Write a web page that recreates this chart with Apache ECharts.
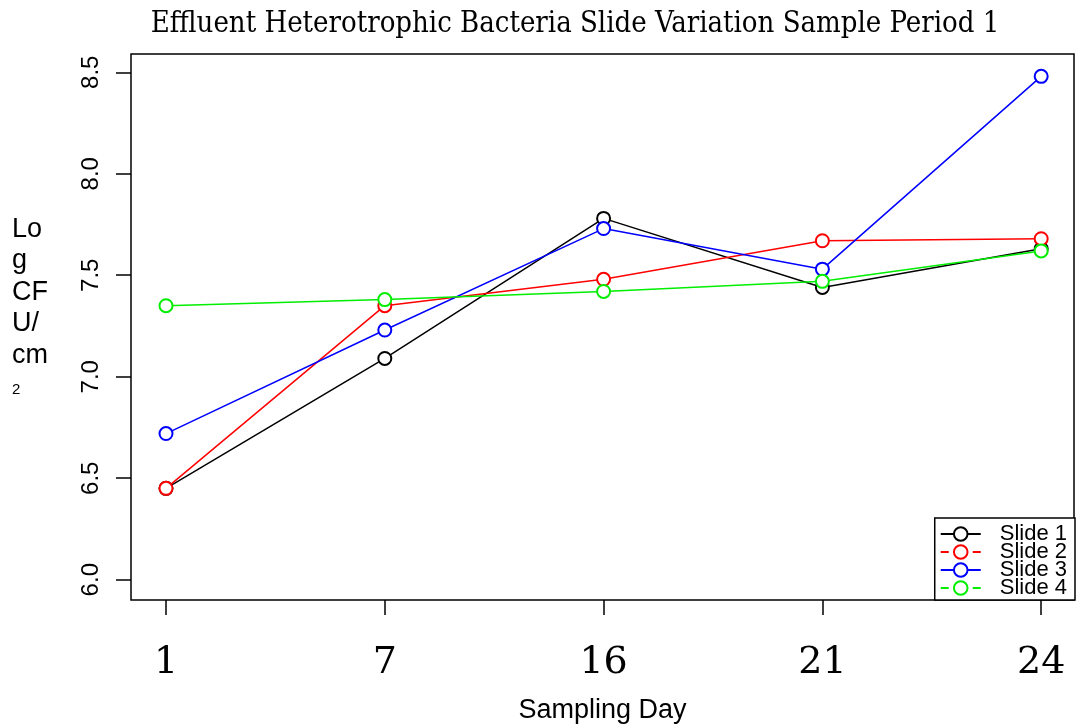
<!DOCTYPE html>
<html>
<head>
<meta charset="utf-8">
<script src="https://cdn.jsdelivr.net/npm/echarts@6/dist/echarts.min.js"></script>
<style>html,body{margin:0;padding:0;background:#fff}#c{width:1076px;height:725px}</style>
</head>
<body>
<div id="c"></div>
<script>
const dayLabels = ['1', '7', '16', '21', '24'];
const seriesNames = ['Slide 1', 'Slide 2', 'Slide 3', 'Slide 4'];
const seriesColors = ['#000000', '#ff0000', '#0000ff', '#00ee00'];
const slide1 = [6.45, 7.09, 7.78, 7.44, 7.63];
const slide2 = [6.45, 7.35, 7.48, 7.67, 7.68];
const slide3 = [6.72, 7.23, 7.73, 7.53, 8.48];
const slide4 = [7.35, 7.38, 7.42, 7.47, 7.62];
const yTicks = [6.0, 6.5, 7.0, 7.5, 8.0, 8.5];
const allValues = [slide1, slide2, slide3, slide4];
const legendDashed = [false, true, false, true];

const chart = echarts.init(document.getElementById('c'), null, {renderer: 'canvas'});
const idx = dayLabels.map((_, i) => i);

const series = allValues.map((vals, s) => ({
  name: seriesNames[s],
  type: 'line',
  data: vals.map((v, i) => [i, v]),
  symbol: 'emptyCircle',
  symbolSize: 13,
  color: seriesColors[s],
  lineStyle: {width: 1.5, color: seriesColors[s]},
  itemStyle: {color: seriesColors[s], borderColor: seriesColors[s], borderWidth: 1.5},
  emphasis: {disabled: true},
  animation: false
}));

chart.setOption({
  animation: false,
  title: {
    text: 'Effluent Heterotrophic Bacteria Slide Variation Sample Period 1',
    left: 570, top: 5, textAlign: 'center',
    textStyle: {fontFamily: 'DejaVu Serif Condensed, Liberation Serif, serif', fontWeight: 'normal', fontSize: 29, color: '#000'}
  },
  grid: {left: 131, top: 54, right: 2, bottom: 125, outerBoundsMode: 'none', containLabel: false,
    show: true, borderColor: '#000', borderWidth: 1.5, backgroundColor: 'transparent'},
  xAxis: {
    type: 'value', min: -0.16, max: 4.15,
    axisLine: {show: false, onZero: false},
    splitLine: {show: false},
    axisTick: {show: true, inside: false, length: 15, lineStyle: {color: '#000', width: 1.5}, customValues: idx},
    axisLabel: {customValues: idx, formatter: v => dayLabels[Math.round(v)], margin: 44,
      fontFamily: 'DejaVu Serif, serif', fontSize: 38, color: '#000'},
    name: 'Sampling Day', nameLocation: 'middle', nameGap: 97,
    nameTextStyle: {fontFamily: 'Liberation Sans, Arial, sans-serif', fontSize: 27, color: '#000'}
  },
  yAxis: {
    type: 'value', min: 5.9, max: 8.59,
    axisLine: {show: false, onZero: false},
    splitLine: {show: false},
    axisTick: {show: true, inside: false, length: 15, lineStyle: {color: '#000', width: 1.5}, customValues: yTicks},
    axisLabel: {customValues: yTicks, formatter: v => v.toFixed(1), rotate: 90, margin: 28,
      fontFamily: 'Liberation Sans, Arial, sans-serif', fontSize: 24, color: '#000'}
  },
  legend: {
    orient: 'vertical', right: 1, bottom: 125,
    backgroundColor: '#fff', borderColor: '#000', borderWidth: 1.5,
    padding: [5, 8, 1, 5], itemGap: -4, itemWidth: 40, itemHeight: 17,
    align: 'left',
    textStyle: {fontFamily: 'Liberation Sans, Arial, sans-serif', fontSize: 22, color: '#000', padding: [0, 0, 0, 14]},
    data: seriesNames.map((n, s) => ({
      name: n,
      lineStyle: {type: legendDashed[s] ? [8, 8] : 'solid'}
    }))
  },
  graphic: [{
    type: 'text', left: 12, top: 216,
    style: {
      text: '{a|Lo}\n{a|g}\n{a|CF}\n{a|U/}\n{a|cm}\n{b|2}',
      rich: {
        a: {fontFamily: 'Liberation Sans, Arial, sans-serif', fontSize: 27, lineHeight: 31.5, fill: '#000'},
        b: {fontFamily: 'Liberation Sans, Arial, sans-serif', fontSize: 15, lineHeight: 38, fill: '#000'}
      }
    }
  }],
  series: series
});
</script>
</body>
</html>
